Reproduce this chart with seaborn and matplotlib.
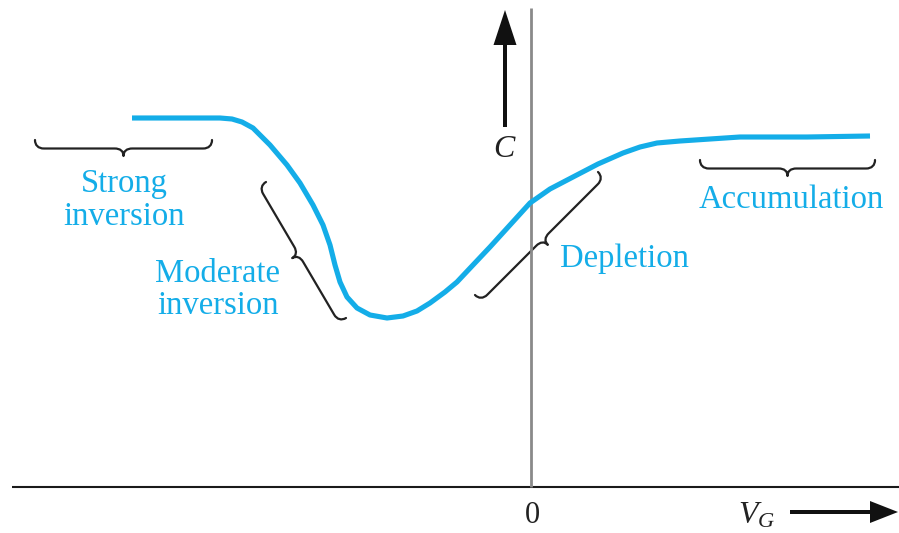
import numpy as np
import pandas as pd
import matplotlib
matplotlib.use("Agg")
import matplotlib.pyplot as plt
from matplotlib.path import Path
from matplotlib.patches import PathPatch
import seaborn as sns

# MOS capacitor C-V characteristic (gate voltage vs. capacitance, arbitrary units)
vg = [-3.98, -3.10, -2.98, -2.88, -2.77, -2.60, -2.43, -2.30, -2.17, -2.07,
      -2.00, -1.95, -1.90, -1.83, -1.73, -1.60, -1.43, -1.27, -1.13, -1.00,
      -0.85, -0.73, -0.57, -0.40, -0.20, 0.00, 0.20, 0.43, 0.68, 0.93,
      1.10, 1.27, 1.50, 1.80, 2.10, 2.77, 3.40]
cap = [3.69, 3.69, 3.68, 3.65, 3.59, 3.42, 3.22, 3.04, 2.82, 2.62,
       2.42, 2.22, 2.05, 1.90, 1.79, 1.72, 1.69, 1.71, 1.76, 1.84,
       1.95, 2.05, 2.22, 2.40, 2.62, 2.84, 2.98, 3.10, 3.23, 3.34,
       3.40, 3.44, 3.46, 3.48, 3.50, 3.50, 3.51]

# Region labels: (lines, x, first baseline, line step)
region_labels = [
    (["Strong", "inversion"], -4.06, 2.95, 0.33),
    (["Moderate", "inversion"], -3.12, 2.05, 0.32),
    (["Depletion"], 0.94, 2.20, 0.0),
    (["Accumulation"], 2.61, 2.79, 0.0),
]

# Braces: (tip start, tip end, side of the cusp: +1 left of direction, -1 right)
braces = [
    ((-4.95, 3.47), (-3.18, 3.47), -1),
    ((1.70, 3.27), (3.45, 3.27), -1),
    ((-2.64, 3.05), (-1.84, 1.69), -1),
    ((-0.55, 1.92), (0.68, 3.15), -1),
]

BLUE = "#14ADE8"

sns.set_theme(style="white")
plt.rcParams["font.family"] = ["Liberation Serif", "DejaVu Serif"]
plt.rcParams["mathtext.fontset"] = "custom"
plt.rcParams["mathtext.it"] = "Liberation Serif:italic"
plt.rcParams["mathtext.rm"] = "Liberation Serif"

fig = plt.figure(figsize=(8.99, 5.33), dpi=100)
ax = fig.add_axes([0, 0, 1, 1])
ax.set_xlim(-5.30, 3.69)
ax.set_ylim(-0.46, 4.87)
ax.axis("off")

# axes of the sketch
ax.plot([-5.18, 3.69], [0, 0], color="#1a1a1a", lw=1.5, solid_capstyle="butt")
ax.plot([0.01, 0.01], [0, 4.79], color="#8a8a8a", lw=2.0, solid_capstyle="butt")

# C-V curve
df = pd.DataFrame({"VG": vg, "C": cap})
sns.lineplot(data=df, x="VG", y="C", sort=False, estimator=None, ax=ax,
             color=BLUE, lw=3.7, solid_joinstyle="round", solid_capstyle="butt")
ax.set_xlabel("")
ax.set_ylabel("")


def brace(p0, p1, side, h=0.085, c=0.075, r=0.09, **kw):
    p0 = np.asarray(p0, float)
    p1 = np.asarray(p1, float)
    d = p1 - p0
    L = np.hypot(*d)
    u = d / L
    n = np.array([-u[1], u[0]]) * side
    m = L / 2
    local = [
        (0, 0),
        (0, 0.6 * h), (0.35 * r, h), (r, h),
        (m - r, h),
        (m - 0.35 * r, h), (m, h + 0.35 * c), (m, h + c),
        (m, h + 0.35 * c), (m + 0.35 * r, h), (m + r, h),
        (L - r, h),
        (L - 0.35 * r, h), (L, 0.6 * h), (L, 0),
    ]
    codes = [Path.MOVETO,
             Path.CURVE4, Path.CURVE4, Path.CURVE4,
             Path.LINETO,
             Path.CURVE4, Path.CURVE4, Path.CURVE4,
             Path.CURVE4, Path.CURVE4, Path.CURVE4,
             Path.LINETO,
             Path.CURVE4, Path.CURVE4, Path.CURVE4]
    pts = [p0 + s * u + t * n for s, t in local]
    ax.add_patch(PathPatch(Path(pts, codes), fill=False, **kw))


for p0, p1, side in braces:
    brace(p0, p1, side, lw=1.6, edgecolor="#222222", joinstyle="round",
          capstyle="round")

for lines, x, y0, step in region_labels:
    for i, s in enumerate(lines):
        ax.text(x, y0 - i * step, s, color=BLUE, fontsize=23.5,
                ha="center", va="baseline")

# axis arrows and labels
ax.arrow(-0.25, 3.60, 0, 1.17, width=0.04, head_width=0.23, head_length=0.35,
         length_includes_head=True, color="#111111", lw=0)
ax.arrow(2.60, -0.25, 1.08, 0, width=0.04, head_width=0.22, head_length=0.28,
         length_includes_head=True, color="#111111", lw=0)
ax.text(-0.25, 3.30, "$C$", fontsize=23, ha="center", va="baseline",
        color="#222222")
ax.text(0.02, -0.36, "0", fontsize=22, ha="center", va="baseline",
        color="#222222")
ax.text(2.27, -0.36, "$V_G$", fontsize=23, ha="center", va="baseline",
        color="#222222")

fig.savefig("out.png", dpi=100)
